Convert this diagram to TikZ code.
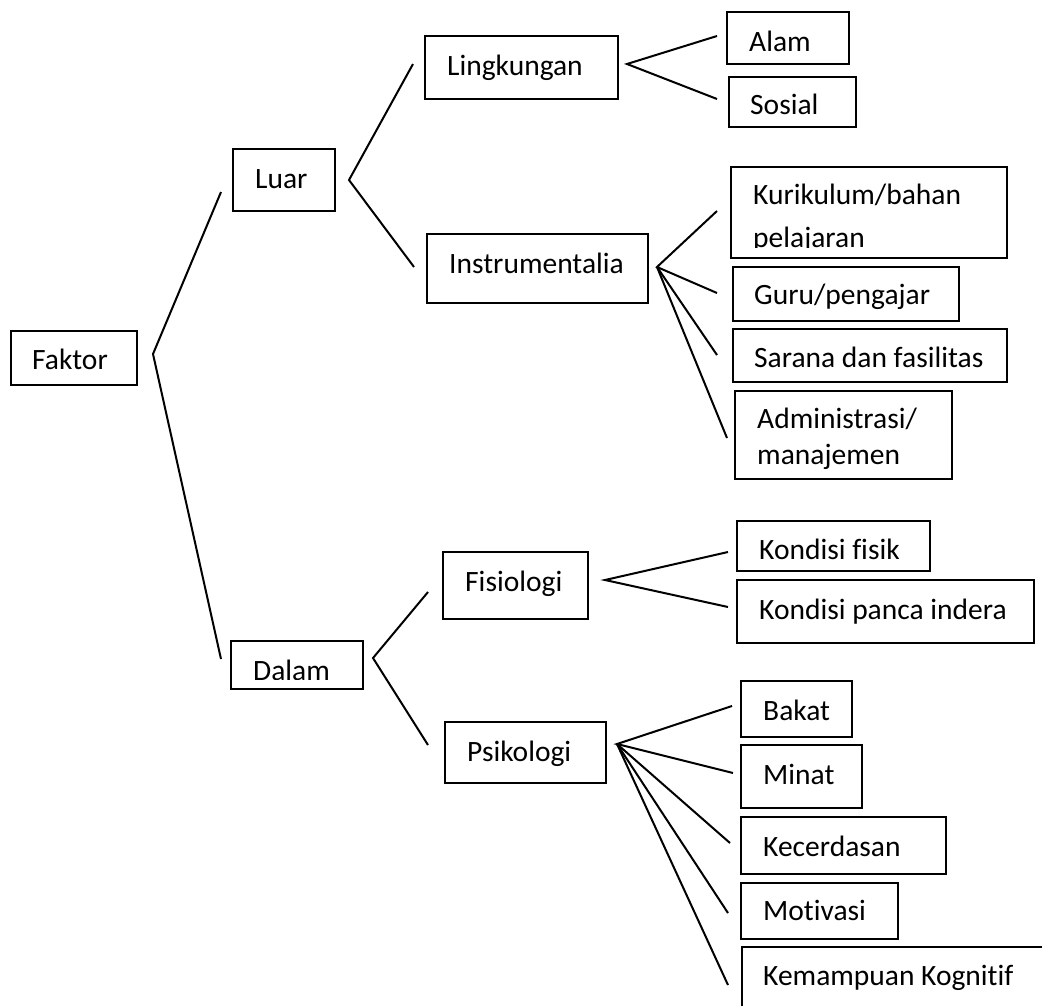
\documentclass[tikz,border=0pt]{standalone}
\usepackage{fontspec}
\setmainfont{Carlito}[RawFeature=-liga]
\begin{document}
\begin{tikzpicture}[x=1pt,y=-1pt,
  box/.style={draw,line width=2pt,inner sep=0pt,rectangle},
  lbl/.style={anchor=base west,inner sep=0pt,font=\fontsize{29.5}{35}\selectfont},
  conn/.style={line width=2pt}]
\useasboundingbox (0,0) rectangle (1042,1005);
\clip (0,0) rectangle (1042,1005);
% boxes
\node[box,minimum width=126,minimum height=54] (faktor) at (74,358) {};
\node[box,minimum width=102,minimum height=62] (luar) at (284,180) {};
\node[box,minimum width=193,minimum height=63] (lingk) at (521.5,67.5) {};
\node[box,minimum width=221,minimum height=69] (instr) at (537.5,268.5) {};
\node[box,minimum width=122,minimum height=52] (alam) at (788,38) {};
\node[box,minimum width=127,minimum height=50] (sosial) at (792.5,102) {};
\node[box,minimum width=276,minimum height=91] (kurik) at (869,212.5) {};
\node[box,minimum width=226,minimum height=54] (guru) at (846,294) {};
\node[box,minimum width=274,minimum height=53] (sarana) at (870,355.5) {};
\node[box,minimum width=217,minimum height=88] (admin) at (843.5,435) {};
\node[box,minimum width=132,minimum height=48] (dalam) at (297,665) {};
\node[box,minimum width=145,minimum height=67] (fisio) at (515.5,585.5) {};
\node[box,minimum width=161,minimum height=61] (psiko) at (525.5,752.5) {};
\node[box,minimum width=193,minimum height=50] (kfisik) at (833.5,546) {};
\node[box,minimum width=297,minimum height=63] (kpanca) at (885.5,611.5) {};
\node[box,minimum width=111,minimum height=56] (bakat) at (796.5,709) {};
\node[box,minimum width=121,minimum height=63] (minat) at (801.5,776.5) {};
\node[box,minimum width=205,minimum height=57] (kecer) at (843.5,845.5) {};
\node[box,minimum width=157,minimum height=56] (motiv) at (819.5,911) {};
\node[box,minimum width=358,minimum height=113] (kemam) at (921,1003.5) {};
% texts
\node[lbl] (tfaktor) at (32,369) {Faktor};
\node[lbl] (tluar) at (255,188) {Luar};
\node[lbl] (tlingk) at (447,75.5) {Lingkungan};
\node[lbl] (tinstr) at (449,273) {Instrumentalia};
\node[lbl] (talam) at (749,51) {Alam};
\node[lbl] (tsosial) at (750,114) {Sosial};
\node[lbl] (tkurik1) at (753,204) {Kurikulum/bahan};
\begin{scope}
\clip (740,215) rectangle (1000,247.3);
\node[lbl] (tkurik2) at (753,247) {pelajaran};
\end{scope}
\node[lbl] (tguru) at (754,304) {Guru/pengajar};
\node[lbl] (tsarana) at (754,367) {Sarana dan fasilitas};
\node[lbl] (tadmin1) at (757,428) {Administrasi/};
\node[lbl] (tadmin2) at (757,464) {manajemen};
\begin{scope}
\clip (240,645) rectangle (360,679);
\node[lbl] (tdalam) at (253,680) {Dalam};
\end{scope}
\node[lbl] (tfisio) at (465,591) {Fisiologi};
\node[lbl] (tpsiko) at (467,761) {Psikologi};
\node[lbl] (tkfisik) at (759,559) {Kondisi fisik};
\node[lbl] (tkpanca) at (759,619) {Kondisi panca indera};
\node[lbl] (tbakat) at (763,720) {Bakat};
\node[lbl] (tminat) at (763,784) {Minat};
\node[lbl] (tkecer) at (763,856) {Kecerdasan};
\node[lbl] (tmotiv) at (763,920) {Motivasi};
\node[lbl] (tkemam) at (763,985) {Kemampuan Kognitif};
% fork coordinates
\coordinate (vF) at (153,354);
\coordinate (eF1) at (221,192);
\coordinate (eF2) at (221,659);
\coordinate (vL) at (349,180);
\coordinate (eL1) at (413,64);
\coordinate (eL2) at (414,267);
\coordinate (vLi) at (627,64);
\coordinate (eLi1) at (717,36);
\coordinate (eLi2) at (717,99);
\coordinate (vI) at (657,267);
\coordinate (eI1) at (717,211);
\coordinate (eI2) at (717,293);
\coordinate (eI3) at (717,355);
\coordinate (eI4) at (727,438);
\coordinate (vD) at (373,658);
\coordinate (eD1) at (428,592);
\coordinate (eD2) at (428,745);
\coordinate (vFi) at (605,580);
\coordinate (eFi1) at (728,552);
\coordinate (eFi2) at (728,607);
\coordinate (vP) at (617,744);
\coordinate (eP1) at (732,706);
\coordinate (eP2) at (733,773);
\coordinate (eP3) at (730,843);
\coordinate (eP4) at (728,913);
\coordinate (eP5) at (728,985);
% connectors
\draw[conn] (eF1) -- (vF) -- (eF2);
\draw[conn] (eL1) -- (vL) -- (eL2);
\draw[conn] (eLi1) -- (vLi) -- (eLi2);
\draw[conn] (eI1) -- (vI) -- (eI2);
\draw[conn] (vI) -- (eI3);
\draw[conn] (vI) -- (eI4);
\draw[conn] (eD1) -- (vD) -- (eD2);
\draw[conn] (eFi1) -- (vFi) -- (eFi2);
\draw[conn] (eP1) -- (vP) -- (eP2);
\draw[conn] (vP) -- (eP3);
\draw[conn] (vP) -- (eP4);
\draw[conn] (vP) -- (eP5);
\end{tikzpicture}
\end{document}
